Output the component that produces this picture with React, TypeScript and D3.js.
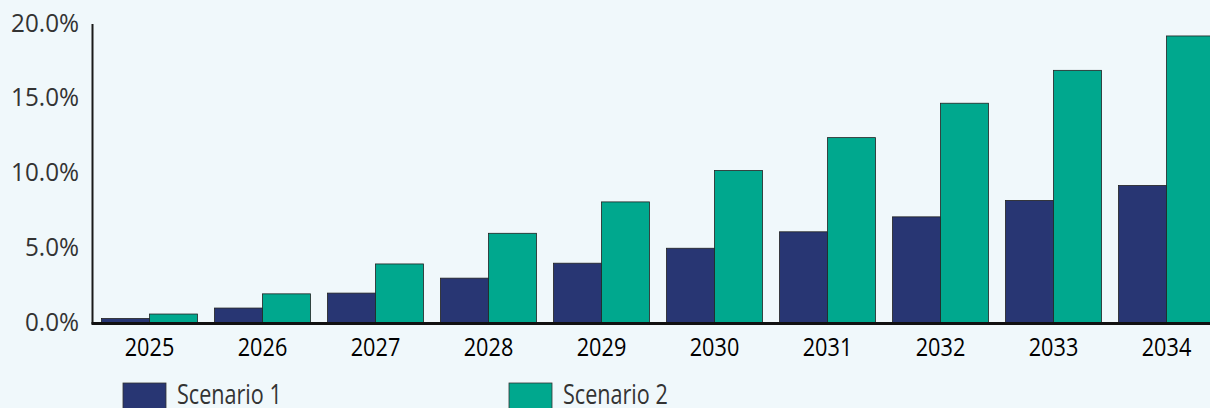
import React, { useEffect, useRef } from "react";
import * as d3 from "d3";

const years = ["2025", "2026", "2027", "2028", "2029", "2030", "2031", "2032", "2033", "2034"];
const scenario1 = [0.3, 1.0, 2.0, 3.0, 4.0, 5.0, 6.1, 7.1, 8.2, 9.2];
const scenario2 = [0.6, 1.95, 3.95, 6.0, 8.1, 10.2, 12.4, 14.7, 16.9, 19.2];
const seriesNames = ["Scenario 1", "Scenario 2"];
const yTicks = [0, 5, 10, 15, 20];

const W = 1210;
const H = 408;
const colors = ["#283673", "#00a88e"];
const FONT = "'Open Sans', 'Noto Sans', sans-serif";

export default function App() {
  const ref = useRef<SVGSVGElement>(null);
  useEffect(() => {
    const svg = d3.select(ref.current);
    svg.selectAll("*").remove();
    svg.append("rect").attr("width", W).attr("height", H).attr("fill", "#f0f8fb");

    const x0 = d3.scaleBand<string>().domain(years).range([93, 1223]).paddingInner(0.15).paddingOuter(0.075);
    const x1 = d3.scaleBand<string>().domain(seriesNames).range([0, x0.bandwidth()]);
    const y = d3.scaleLinear().domain([0, 20]).range([323, 24]);

    const g = svg.append("g");
    const data = [scenario1, scenario2];
    data.forEach((vals, si) => {
      g.selectAll(null)
        .data(vals)
        .enter()
        .append("rect")
        .attr("x", (_, i) => (x0(years[i]) as number) + (x1(seriesNames[si]) as number))
        .attr("y", (d) => y(d))
        .attr("width", x1.bandwidth())
        .attr("height", (d) => y(0) - y(d))
        .attr("fill", colors[si])
        .attr("stroke", "#222")
        .attr("stroke-width", 0.8);
    });

    // axes
    svg.append("line").attr("x1", 92.5).attr("x2", 92.5).attr("y1", y(20)).attr("y2", y(0) + 1).attr("stroke", "#1a1a1a").attr("stroke-width", 2);
    svg.append("line").attr("x1", 91.5).attr("x2", W).attr("y1", y(0) + 0.5).attr("y2", y(0) + 0.5).attr("stroke", "#111").attr("stroke-width", 3);

    svg.selectAll(null)
      .data(yTicks)
      .enter()
      .append("text")
      .attr("transform", (d) => `translate(79,${y(d) + 7.5}) scale(0.95,1)`)
      .attr("text-anchor", "end")
      .attr("font-family", FONT)
      .attr("font-size", 25.5)
      .attr("fill", "#333")
      .text((d) => d3.format(".1f")(d) + "%");

    svg.selectAll(null)
      .data(years)
      .enter()
      .append("text")
      .attr("transform", (d) => `translate(${(x0(d) as number) + x0.bandwidth() / 2},356) scale(0.85,1)`)
      .attr("text-anchor", "middle")
      .attr("font-family", FONT)
      .attr("font-size", 25.5)
      .attr("fill", "#000")
      .text((d) => d);

    const legendX = [123, 509];
    seriesNames.forEach((name, i) => {
      svg.append("rect").attr("x", legendX[i]).attr("y", 383).attr("width", 43).attr("height", 30)
        .attr("fill", colors[i]).attr("stroke", "#333").attr("stroke-width", 0.8);
      svg.append("text").attr("transform", `translate(${legendX[i] + 54},404) scale(0.8,1)`)
        .attr("font-family", FONT).attr("font-size", 27).attr("fill", "#333").text(name);
    });
  }, []);
  return (
    <svg ref={ref} width={W} height={H} style={{ position: "absolute", left: 0, top: 0, display: "block" }} />
  );
}
